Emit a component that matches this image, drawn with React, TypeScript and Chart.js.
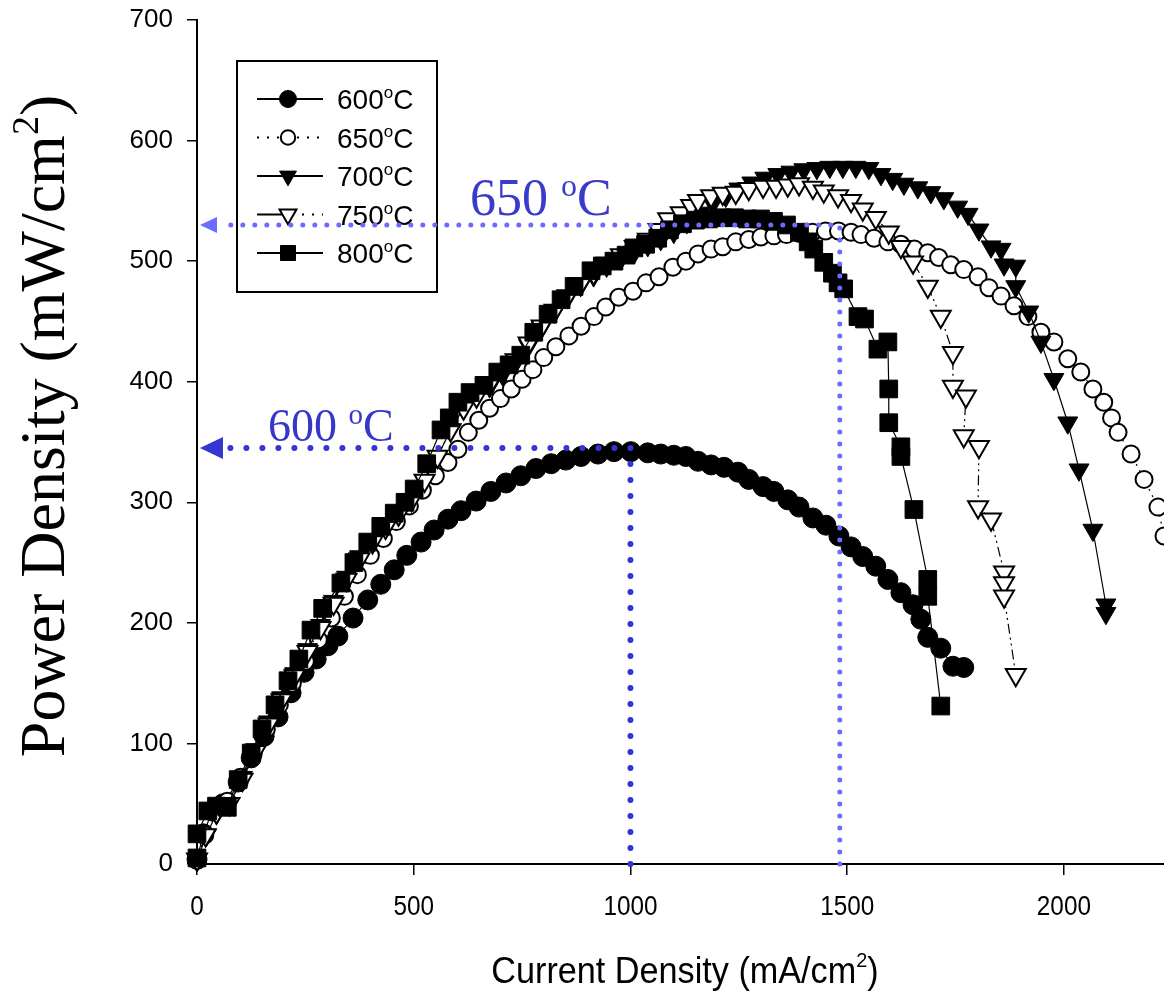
import React, { useEffect, useRef } from "react";
import { Chart, registerables } from "chart.js";

Chart.register(...registerables);

type Pt = [number, number];

// ---------- data (current density mA/cm2, power density mW/cm2) ----------
const s600: Pt[] = [
  [0, 4], [15, 25], [35, 44], [60, 50], [95, 68], [125, 88], [155, 106], [187, 122], [217, 142], [247, 159],
  [275, 170], [302, 181], [325, 189], [360, 204], [394, 219], [424, 232], [455, 244], [484, 256], [517, 267],
  [547, 277], [579, 286], [609, 293], [644, 301], [678, 309], [713, 316], [747, 322], [782, 328], [817, 332],
  [851, 335], [886, 338], [925, 340], [962, 342], [1001, 342], [1040, 341], [1070, 340], [1100, 339], [1128, 338],
  [1156, 334], [1186, 331], [1216, 329], [1248, 325], [1273, 319], [1306, 313], [1331, 309], [1363, 302],
  [1389, 296], [1421, 287], [1451, 281], [1481, 272], [1509, 263], [1536, 255], [1566, 247], [1594, 236],
  [1624, 225], [1652, 215], [1670, 203], [1686, 188], [1716, 179], [1744, 164], [1769, 163],
];

const s650: Pt[] = [
  [0, 3], [18, 24], [40, 44], [70, 52], [100, 72], [130, 92], [160, 112], [190, 132], [220, 150], [250, 168],
  [280, 186], [310, 204], [340, 222], [370, 240], [400, 256], [430, 270], [460, 284], [490, 297], [520, 310],
  [550, 322], [579, 333], [602, 344], [626, 358], [650, 368], [675, 378], [700, 386], [725, 394], [750, 402],
  [775, 410], [800, 420], [828, 429], [858, 438], [886, 446], [916, 454], [943, 462], [973, 470], [1006, 475],
  [1036, 482], [1066, 487], [1098, 495], [1128, 500], [1156, 506], [1186, 510], [1213, 512], [1243, 516],
  [1273, 518], [1301, 520], [1331, 521], [1360, 522], [1390, 523], [1420, 524], [1450, 525], [1480, 525],
  [1509, 524], [1532, 522], [1562, 519], [1594, 516], [1624, 514], [1655, 510], [1686, 507], [1711, 503],
  [1739, 497], [1769, 493], [1802, 487], [1827, 478], [1855, 471], [1885, 463], [1917, 454], [1947, 441],
  [1977, 433], [2009, 419], [2039, 408], [2067, 394], [2092, 383], [2110, 370], [2125, 358], [2155, 340],
  [2185, 319], [2217, 296], [2231, 272], [2250, 262],
];

const s700: Pt[] = [
  [0, 3], [22, 24], [45, 42], [75, 50], [105, 72], [135, 95], [165, 118], [195, 138], [225, 158], [255, 178],
  [285, 198], [315, 218], [345, 238], [375, 255], [405, 268], [435, 280], [465, 290], [495, 302], [525, 318],
  [555, 338], [585, 360], [615, 378], [645, 388], [675, 396], [705, 406], [735, 416], [765, 430], [795, 445],
  [825, 458], [855, 470], [885, 480], [915, 488], [945, 496], [978, 502], [1010, 508], [1040, 513], [1070, 518],
  [1100, 524], [1130, 532], [1160, 540], [1190, 548], [1220, 554], [1250, 560], [1280, 565], [1310, 569],
  [1340, 572], [1370, 574], [1400, 576], [1430, 577], [1460, 578], [1490, 578], [1520, 578], [1550, 577],
  [1578, 572], [1605, 568], [1631, 564], [1663, 561], [1693, 557], [1723, 552], [1755, 545], [1779, 539],
  [1804, 526], [1832, 512], [1855, 510], [1862, 497], [1889, 496], [1889, 479], [1919, 458], [1947, 433],
  [1977, 402], [2009, 366], [2035, 327], [2067, 277], [2097, 215], [2097, 208],
];

const s750: Pt[] = [
  [0, 4], [20, 24], [45, 43], [75, 50], [105, 70], [135, 93], [165, 116], [195, 136], [225, 156], [255, 176],
  [285, 196], [315, 216], [345, 236], [375, 253], [405, 267], [435, 279], [465, 290], [495, 302], [525, 318],
  [555, 338], [585, 360], [615, 378], [645, 388], [675, 398], [705, 408], [735, 418], [765, 432], [795, 446],
  [825, 459], [855, 471], [885, 481], [915, 490], [945, 498], [978, 505], [1010, 512], [1040, 518], [1065, 526],
  [1087, 535], [1116, 540], [1140, 546], [1156, 550], [1186, 554], [1213, 556], [1243, 557], [1273, 560],
  [1306, 562], [1336, 562], [1363, 563], [1389, 564], [1421, 561], [1446, 558], [1479, 554], [1509, 550],
  [1536, 543], [1566, 536], [1596, 524], [1624, 512], [1652, 499], [1686, 479], [1716, 454], [1744, 424],
  [1744, 396], [1774, 388], [1769, 355], [1804, 346], [1802, 296], [1832, 286], [1862, 242], [1862, 233],
  [1862, 222], [1889, 157],
];

const s800: Pt[] = [
  [0, 5], [0, 25], [25, 44], [45, 48], [70, 47], [95, 70], [125, 92], [150, 112], [180, 132], [210, 152],
  [235, 170], [263, 194], [290, 212], [332, 233], [362, 250], [394, 267], [424, 280], [455, 291], [480, 300],
  [501, 311], [530, 332], [563, 360], [582, 370], [602, 383], [630, 391], [662, 397], [694, 408], [720, 414],
  [747, 422], [777, 441], [810, 456], [840, 468], [870, 479], [909, 492], [935, 496], [962, 500], [990, 505],
  [1008, 511], [1035, 514], [1063, 519], [1090, 526], [1120, 531], [1150, 534], [1180, 535], [1210, 536],
  [1240, 536], [1270, 535], [1300, 535], [1330, 533], [1360, 530], [1390, 524], [1410, 516], [1423, 510],
  [1446, 499], [1466, 490], [1479, 482], [1492, 477], [1525, 454], [1540, 452], [1571, 427], [1594, 433],
  [1596, 394], [1596, 366], [1624, 346], [1624, 338], [1654, 294], [1686, 236], [1686, 222], [1716, 131],
];

const seriesData: Pt[][] = [s600, s650, s700, s750, s800];
const seriesNames = ["600", "650", "700", "750", "800"];

const xTickValues = [0, 500, 1000, 1500, 2000];
const X_MIN = 0;
const X_MAX = 2231;
const Y_MIN = 0;
const Y_MAX = 700;
const Y_STEP = 100;

// peak markers (current density, power density)
const peak600 = { x: 1000, y: 345, label: "600" };
const peak650 = { x: 1483, y: 530, label: "650" };

const xTitle = "Current Density (mA/cm";
const yTitle = "Power Density (mW/cm";

// ---------- styles ----------
const SANS = "'Liberation Sans', Arial, sans-serif";
const SERIF = "'Liberation Serif', 'Times New Roman', serif";

type Style = { shape: "circle" | "triangle" | "rect"; r: number; fill: string; lw: number; dash: number[] };
const seriesStyle: Style[] = [
  { shape: "circle", r: 10, fill: "#000", lw: 1, dash: [] },
  { shape: "circle", r: 8.5, fill: "#fff", lw: 2, dash: [2, 5] },
  { shape: "triangle", r: 11.5, fill: "#000", lw: 1, dash: [] },
  { shape: "triangle", r: 11.5, fill: "#fff", lw: 2, dash: [10, 4, 2, 4, 2, 4] },
  { shape: "rect", r: 12.5, fill: "#000", lw: 1, dash: [] },
];

type Part = { t: string; size: number; family: string; dy?: number };

function partsWidth(ctx: CanvasRenderingContext2D, parts: Part[], sx: number) {
  let w = 0;
  for (const p of parts) {
    ctx.font = `${p.size}px ${p.family}`;
    w += ctx.measureText(p.t).width * sx;
  }
  return w;
}

function drawParts(ctx: CanvasRenderingContext2D, parts: Part[], x: number, y: number, sx = 1) {
  let cx = x;
  ctx.textAlign = "left";
  ctx.textBaseline = "alphabetic";
  for (const p of parts) {
    ctx.font = `${p.size}px ${p.family}`;
    ctx.save();
    ctx.translate(cx, y + (p.dy || 0));
    ctx.scale(sx, 1);
    ctx.fillText(p.t, 0, 0);
    ctx.restore();
    cx += ctx.measureText(p.t).width * sx;
  }
}

function drawMarker(ctx: CanvasRenderingContext2D, st: Style, x: number, y: number, scale = 1) {
  const r = st.r * scale;
  ctx.beginPath();
  if (st.shape === "circle") {
    ctx.arc(x, y, r, 0, Math.PI * 2);
  } else if (st.shape === "triangle") {
    const s = Math.sin(Math.PI / 3) * r;
    ctx.moveTo(x, y + r);
    ctx.lineTo(x - s, y - r / 2);
    ctx.lineTo(x + s, y - r / 2);
    ctx.closePath();
  } else {
    const h = r * Math.SQRT1_2;
    ctx.rect(x - h, y - h, 2 * h, 2 * h);
  }
  ctx.fillStyle = st.fill;
  ctx.fill();
  ctx.lineWidth = st.lw;
  ctx.strokeStyle = "#000";
  ctx.setLineDash([]);
  ctx.stroke();
}

function drawGuide(
  ctx: CanvasRenderingContext2D,
  chart: any,
  m: { x: number; y: number; label: string },
  color: string,
  textColor: string,
  dotW: number,
  gap: number,
  arrowLen: number,
  arrowHalf: number,
  fontSize: number,
  textDx: number,
  textDy: number,
) {
  const xs = chart.scales.x;
  const ys = chart.scales.y;
  const area = chart.chartArea;
  const px = xs.getPixelForValue(m.x);
  const py = ys.getPixelForValue(m.y);
  const py0 = ys.getPixelForValue(0);
  ctx.save();
  ctx.strokeStyle = color;
  ctx.fillStyle = color;
  ctx.lineWidth = dotW;
  ctx.lineCap = "round";
  ctx.setLineDash([0, gap]);
  ctx.beginPath();
  ctx.moveTo(px, py0);
  ctx.lineTo(px, py);
  ctx.lineTo(area.left + 3 + arrowLen + 4, py);
  ctx.stroke();
  ctx.setLineDash([]);
  ctx.beginPath();
  ctx.moveTo(area.left + 3, py);
  ctx.lineTo(area.left + 3 + arrowLen, py - arrowHalf);
  ctx.lineTo(area.left + 3 + arrowLen, py + arrowHalf);
  ctx.closePath();
  ctx.fill();
  ctx.fillStyle = textColor;
  drawParts(
    ctx,
    [
      { t: m.label + " ", size: fontSize, family: SERIF },
      { t: "o", size: Math.round(fontSize * 0.62), family: SERIF, dy: -Math.round(fontSize * 0.37) },
      { t: "C", size: fontSize, family: SERIF },
    ],
    area.left + textDx,
    py + textDy,
  );
  ctx.restore();
}

const overlayPlugin = {
  id: "overlay",
  afterDatasetsDraw(chart: any) {
    const ctx: CanvasRenderingContext2D = chart.ctx;
    const xs = chart.scales.x;
    const area = chart.chartArea;
    ctx.save();
    ctx.fillStyle = "#000";

    // x tick labels
    for (const v of xTickValues) {
      const px = xs.getPixelForValue(v);
      ctx.font = `27px ${SANS}`;
      const w = ctx.measureText(String(v)).width * 0.9;
      drawParts(ctx, [{ t: String(v), size: 27, family: SANS }], px - w / 2, area.bottom + 51, 0.9);
    }

    // x title
    const xParts: Part[] = [
      { t: xTitle, size: 36, family: SANS },
      { t: "2", size: 21, family: SANS, dy: -16 },
      { t: ")", size: 36, family: SANS },
    ];
    const xw = partsWidth(ctx, xParts, 0.95);
    drawParts(ctx, xParts, 685 - xw / 2, 983, 0.95);

    // y title
    const yParts: Part[] = [
      { t: yTitle, size: 64, family: SERIF },
      { t: "2", size: 38, family: SERIF, dy: -26 },
      { t: ")", size: 64, family: SERIF },
    ];
    const yw = partsWidth(ctx, yParts, 1);
    ctx.save();
    ctx.translate(64, 426);
    ctx.rotate(-Math.PI / 2);
    drawParts(ctx, yParts, -yw / 2, 0, 1);
    ctx.restore();

    // legend
    const bx = area.left + 40;
    const by = area.top + 41;
    ctx.fillStyle = "#fff";
    ctx.fillRect(bx, by, 200, 231);
    ctx.lineWidth = 2;
    ctx.strokeStyle = "#000";
    ctx.strokeRect(bx, by, 200, 231);
    seriesNames.forEach((name, i) => {
      const st = seriesStyle[i];
      const cy = by + 38 + i * 38.5;
      ctx.save();
      ctx.strokeStyle = "#000";
      ctx.lineWidth = 2;
      if (i === 3) {
        ctx.beginPath();
        ctx.moveTo(bx + 20, cy);
        ctx.lineTo(bx + 51, cy);
        ctx.stroke();
        ctx.setLineDash([2, 8]);
        ctx.beginPath();
        ctx.moveTo(bx + 65, cy);
        ctx.lineTo(bx + 86, cy);
        ctx.stroke();
      } else {
        ctx.setLineDash(i === 1 ? [2, 8] : []);
        ctx.beginPath();
        ctx.moveTo(bx + 20, cy);
        ctx.lineTo(bx + 86, cy);
        ctx.stroke();
      }
      ctx.restore();
      drawMarker(ctx, st, bx + 51, cy, 0.85);
      ctx.fillStyle = "#000";
      drawParts(
        ctx,
        [
          { t: name, size: 28, family: SANS },
          { t: "o", size: 17, family: SANS, dy: -11 },
          { t: "C", size: 28, family: SANS },
        ],
        bx + 100,
        cy + 10,
      );
    });

    // guides
    drawGuide(ctx, chart, peak600, "#3535d2", "#3636c8", 6, 16, 23, 11, 46, 71, -7);
    drawGuide(ctx, chart, peak650, "#6b6bff", "#3a3acb", 5, 12, 17, 8, 52, 273, -10);

    ctx.restore();
  },
};

export default function App() {
  const ref = useRef<HTMLCanvasElement>(null);
  useEffect(() => {
    document.body.style.margin = "0";
    const canvas = ref.current!;
    const datasets = seriesData.map((d, i) => {
      const st = seriesStyle[i];
      return {
        label: seriesNames[i] + "°C",
        data: d.map(([x, y]) => ({ x, y })),
        showLine: true,
        borderColor: "#000",
        borderWidth: 1.2,
        borderDash: st.dash,
        pointStyle: st.shape,
        pointRotation: st.shape === "triangle" ? 180 : 0,
        pointRadius: st.r,
        pointBackgroundColor: st.fill,
        pointBorderColor: "#000",
        pointBorderWidth: st.lw,
        tension: 0,
        clip: false as any,
        order: 5 - i,
      };
    });
    const chart = new Chart(canvas, {
      type: "scatter",
      data: { datasets },
      options: {
        responsive: false,
        animation: false,
        devicePixelRatio: 1,
        layout: { autoPadding: false, padding: { top: 20, right: 0, bottom: 0, left: 0 } },
        plugins: { legend: { display: false }, tooltip: { enabled: false } },
        scales: {
          x: {
            type: "linear",
            min: X_MIN,
            max: X_MAX,
            afterBuildTicks: (s: any) => {
              s.ticks = xTickValues.map((v) => ({ value: v }));
            },
            afterFit: (s: any) => {
              s.height = 127;
              s.paddingLeft = 0;
              s.paddingRight = 0;
            },
            ticks: { display: false },
            grid: { drawOnChartArea: false, drawTicks: true, tickLength: 11, color: "#000", lineWidth: 1.5 },
            border: { display: true, color: "#000", width: 2 },
          },
          y: {
            type: "linear",
            min: Y_MIN,
            max: Y_MAX,
            afterFit: (s: any) => {
              s.width = 197;
              s.paddingTop = 0;
              s.paddingBottom = 0;
            },
            ticks: { stepSize: Y_STEP, color: "#000", font: { family: SANS, size: 26 }, padding: 14 },
            grid: { drawOnChartArea: false, drawTicks: true, tickLength: 10, color: "#000", lineWidth: 1.5 },
            border: { display: true, color: "#000", width: 2 },
          },
        },
      },
      plugins: [overlayPlugin],
    } as any);
    return () => chart.destroy();
  }, []);
  return <canvas ref={ref} width={1164} height={991} style={{ display: "block" }} />;
}
